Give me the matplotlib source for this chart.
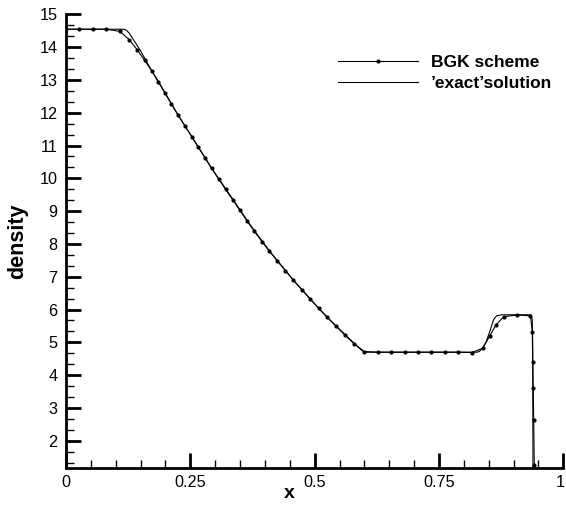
import matplotlib
matplotlib.use("Agg")
import matplotlib.pyplot as plt
from matplotlib.ticker import MultipleLocator, FixedLocator
from matplotlib.transforms import ScaledTranslation

plt.rcParams['font.family'] = ['Liberation Sans', 'DejaVu Sans']

# BGK scheme: density at the plotted sample points
bgk_x = [0.000, 0.027, 0.054, 0.081, 0.108, 0.127, 0.143, 0.158, 0.172, 0.185,
         0.199, 0.212, 0.226, 0.239, 0.253, 0.266, 0.280, 0.293, 0.307, 0.321,
         0.335, 0.349, 0.364, 0.379, 0.394, 0.409, 0.425, 0.441, 0.457, 0.474,
         0.491, 0.508, 0.525, 0.543, 0.561, 0.579, 0.600, 0.627, 0.654, 0.681,
         0.708, 0.734, 0.762, 0.789, 0.816, 0.838, 0.852, 0.864, 0.880, 0.907,
         0.934, 0.9376, 0.9385, 0.9395, 0.9405, 0.9416, 0.943, 1.000]
bgk_rho = [14.545, 14.545, 14.545, 14.545, 14.48, 14.23, 13.92, 13.60, 13.28, 12.95,
           12.60, 12.26, 11.92, 11.60, 11.27, 10.95, 10.62, 10.30, 9.98, 9.66,
           9.35, 9.04, 8.70, 8.38, 8.07, 7.78, 7.48, 7.19, 6.90, 6.61,
           6.32, 6.04, 5.77, 5.49, 5.22, 4.96, 4.72, 4.70, 4.70, 4.70,
           4.70, 4.70, 4.70, 4.70, 4.69, 4.82, 5.19, 5.52, 5.78, 5.835,
           5.81, 5.32, 4.41, 3.60, 2.63, 1.26, 1.00, 1.00]

# reference ("exact") solution
exact_x = [0.000, 0.115, 0.121, 0.127, 0.135, 0.149, 0.172, 0.186, 0.226, 0.253,
           0.293, 0.337, 0.370, 0.410, 0.457, 0.508, 0.525, 0.565, 0.5795, 0.592,
           0.598, 0.603, 0.826, 0.831, 0.838, 0.845, 0.853, 0.860, 0.866, 0.876,
           0.935, 0.9375, 0.9385, 0.939, 1.000]
exact_rho = [14.545, 14.545, 14.52, 14.43, 14.24, 13.91, 13.29, 12.95, 11.91, 11.27,
             10.30, 9.33, 8.59, 7.77, 6.90, 6.04, 5.77, 5.18, 4.97, 4.79,
             4.72, 4.70, 4.70, 4.72, 4.83, 5.02, 5.37, 5.70, 5.81, 5.84,
             5.84, 5.70, 5.00, 1.00, 1.00]

x_ticks = [0, 0.25, 0.5, 0.75, 1]
x_tick_labels = ['0', '0.25', '0.5', '0.75', '1']
y_ticks = list(range(2, 16))

W, H = 566, 514
fig = plt.figure(figsize=(W / 100, H / 100), dpi=100)
ax = fig.add_axes([66 / W, 1 - 468 / H, (563.3 - 66) / W, (468 - 14.3) / H])

ax.plot(bgk_x, bgk_rho, color='black', lw=0.8, marker='o', ms=2.0,
        mfc='black', mec='black', label='BGK scheme')
ax.plot(exact_x, exact_rho, color='black', lw=0.8, label='\u2019exact\u2019solution')

ax.set_xlim(0, 1)
ax.set_ylim(1.17, 15)

for s in ('top', 'right'):
    ax.spines[s].set_visible(False)
for s in ('left', 'bottom'):
    ax.spines[s].set_linewidth(2.0)

ax.xaxis.set_major_locator(FixedLocator(x_ticks))
ax.set_xticklabels(x_tick_labels)
ax.xaxis.set_minor_locator(MultipleLocator(0.05))
ax.yaxis.set_major_locator(FixedLocator(y_ticks))
ax.yaxis.set_minor_locator(MultipleLocator(1 / 3))

ax.tick_params(which='major', direction='in', length=11, width=2.0,
               labelsize=11.7, pad=6)
ax.tick_params(which='minor', direction='in', length=6, width=1.0)
ax.tick_params(axis='x', which='major', pad=5)

# keep the last x tick label inside the figure edge
last = ax.get_xticklabels()[-1]
last.set_transform(last.get_transform() + ScaledTranslation(-2.5 / 72, 0, fig.dpi_scale_trans))

ax.set_xlabel('x', fontsize=14, fontweight='bold')
ax.xaxis.set_label_coords((289 - 66) / (563.3 - 66), -0.037)
ax.set_ylabel('density', fontsize=15.5, fontweight='bold', labelpad=8)

leg = ax.legend(loc='upper left', bbox_to_anchor=(338 / W, 1 - 55 / H),
                bbox_transform=fig.transFigure, frameon=False,
                borderpad=0, borderaxespad=0, handlelength=4.6,
                handletextpad=0.75, labelspacing=0.35, numpoints=1,
                prop={'size': 12.5, 'weight': 'bold'})

fig.savefig('out.png', dpi=100)
